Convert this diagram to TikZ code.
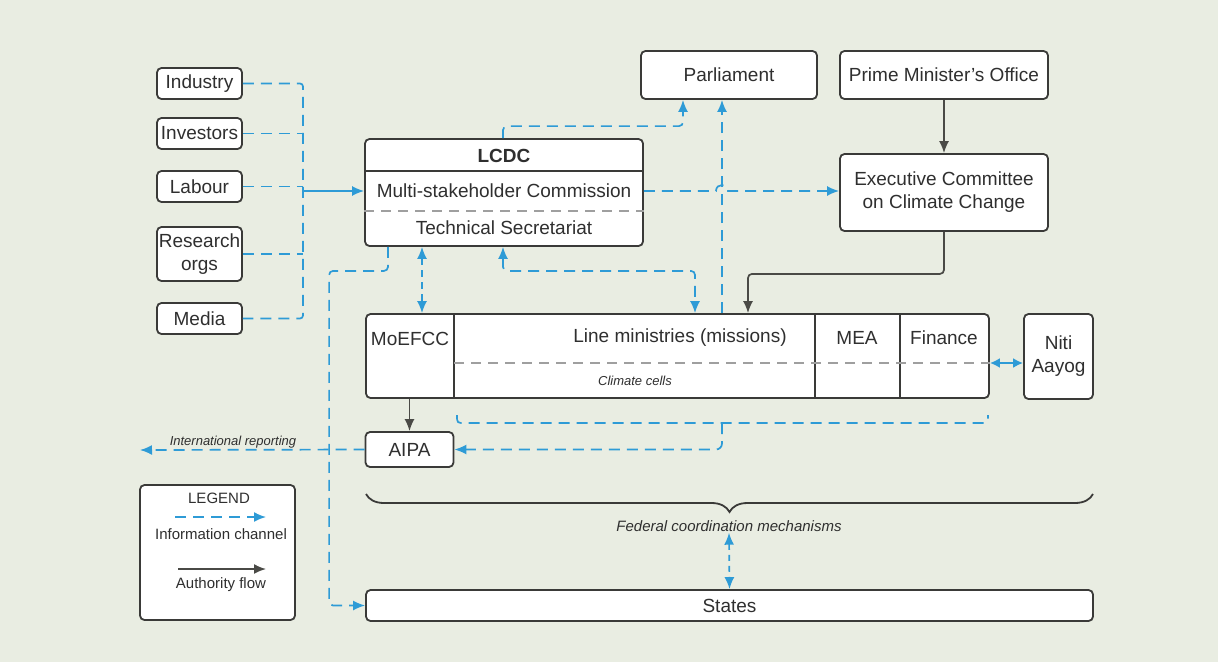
\documentclass[tikz,border=0pt]{standalone}
\usepackage{fontspec}
\setmainfont{Liberation Sans}
\usetikzlibrary{arrows.meta,decorations.pathreplacing,calc}
\definecolor{bg}{HTML}{E9EDE2}
\definecolor{info}{HTML}{2E9BD6}
\definecolor{auth}{HTML}{4A4A46}
\definecolor{edge}{HTML}{3A3A38}
\definecolor{txt}{HTML}{2F2F2F}
\begin{document}
\begin{tikzpicture}[x=1pt,y=-1pt,
  box/.style={draw=edge, line width=1.8pt, rounded corners=4.5pt, fill=white, inner sep=0pt, align=center, font=\fontsize{19}{23}\selectfont, text=txt},
  lbl/.style={inner sep=1pt, text=txt, font=\fontsize{19}{23}\selectfont, align=center},
  small/.style={inner sep=1pt, text=txt, font=\fontsize{13}{15}\selectfont\itshape},
  legtxt/.style={inner sep=1pt, text=txt, font=\fontsize{15}{17}\selectfont},
  infoln/.style={draw=info, line width=1.7pt, dash pattern=on 11pt off 7pt},
  infoarr/.style={infoln, -{Latex[length=12pt,width=10pt]}},
  infobi/.style={infoln, {Latex[length=12pt,width=10pt]}-{Latex[length=12pt,width=10pt]}},
  authar/.style={draw=auth, line width=1.7pt, -{Latex[length=12pt,width=10pt]}},
  sep/.style={draw=edge, line width=1.4pt},
  gdash/.style={draw=gray!75, line width=1.4pt, dash pattern=on 10pt off 7pt},
]
\fill[bg] (0,0) rectangle (1218,662);
\useasboundingbox (0,0) rectangle (1218,662);

% stakeholders
\node[box, minimum width=85, minimum height=31] (ind) at (199.5,83.5) {Industry};
\node[box, minimum width=85, minimum height=31] (inv) at (199.5,133.5) {Investors};
\node[box, minimum width=85, minimum height=31] (lab) at (199.5,186.5) {Labour};
\node[box, minimum width=85, minimum height=54] (res) at (199.5,254) {Research\\orgs};
\node[box, minimum width=85, minimum height=31] (med) at (199.5,318.5) {Media};

% LCDC
\node[box, minimum width=278, minimum height=107] (lcdc) at (504,192.5) {};
\node[lbl, font=\fontsize{19}{23}\selectfont\bfseries] (lcdct) at (504,156) {LCDC};
\node[lbl] (msc) at (504,191) {Multi-stakeholder Commission};
\node[lbl] (ts) at (504,228) {Technical Secretariat};
\draw[sep] (lcdc.west |- 0,171) -- (lcdc.east |- 0,171);
\draw[gdash] (lcdc.west |- 0,211) -- (lcdc.east |- 0,211);

% top right
\node[box, minimum width=176, minimum height=48] (parl) at (729,75) {Parliament};
\node[box, minimum width=208, minimum height=48] (pmo) at (944,75) {Prime Minister's Office};
\node[box, minimum width=208, minimum height=77] (eccc) at (944,192.5) {Executive Committee\\on Climate Change};

% ministries
\node[box, minimum width=623, minimum height=84] (min) at (677.5,356) {};
\draw[sep] (454,0 |- min.north) -- (454,0 |- min.south);
\draw[sep] (815,0 |- min.north) -- (815,0 |- min.south);
\draw[sep] (900,0 |- min.north) -- (900,0 |- min.south);
\draw[gdash] (454,363) -- (min.east |- 0,363);
\node[lbl] (moe) at (410,339) {MoEFCC};
\node[lbl] (lm) at (680,338) {Line ministries (missions)};
\node[lbl] (mea) at (857,338) {MEA};
\node[lbl] (fin) at (944,338) {Finance};
\node[small] (cc) at (635,381) {Climate cells};
\node[box, minimum width=69, minimum height=85] (niti) at (1058.5,356.5) {Niti\\Aayog};

% AIPA
\node[box, minimum width=88, minimum height=35] (aipa) at (409.5,449.5) {AIPA};
\coordinate (intl) at (140,450);
\node[small] (intlt) at (233,442) {International reporting};

% states
\node[box, minimum width=727, minimum height=31] (states) at (729.5,605.5) {States};

% legend
\node[box, minimum width=155, minimum height=135] (leg) at (217.5,552.5) {};
\node[legtxt] (legt) at (219,498) {LEGEND};
\coordinate (l1a) at (175,517);
\coordinate (l1b) at (266,517);
\draw[infoarr] (l1a) -- (l1b);
\node[legtxt] (legi) at (221,534) {Information channel};
\coordinate (l2a) at (178,569);
\coordinate (l2b) at (266,569);
\draw[authar] (l2a) -- (l2b);
\node[legtxt] (lega) at (221,585) {Authority flow};

% stakeholder bus
\coordinate (bus) at (303,0);
\draw[infoln, rounded corners=3pt] (ind.east) -| (bus |- med.east) -- (med.east);
\draw[infoln] (inv.east) -- (inv.east -| bus);
\draw[infoln] (lab.east) -- (lab.east -| bus);
\draw[infoln] (res.east) -- (res.east -| bus);
\draw[draw=info, line width=1.7pt, -{Latex[length=12pt,width=10pt]}] (bus |- msc) -- (lcdc.west |- msc);

% LCDC -> Parliament
\draw[infoarr, rounded corners=4pt] ($(lcdc.north)+(-1,0)$) -- ++(0,-12) -| ($(parl.south)+(-46,0)$);
% Ministries -> Parliament
\draw[infoarr] ($(min.north)+(44.5,0)$) -- ($(parl.south)+(-7,0)$);
% LCDC -> ECCC with hop
\draw[infoarr] (lcdc.east |- msc) -- (716,191) .. controls (716,183) and (728,183) .. (728,191) -- (eccc.west |- msc);
% PMO -> ECCC
\draw[authar] (pmo) -- (eccc);
% ECCC -> ministries
\draw[authar, rounded corners=4pt] (eccc.south) -- ++(0,42) -| ($(min.north)+(70.5,0)$);
% LCDC -> States
\draw[infoarr, rounded corners=4pt] ($(lcdc.south)+(-116,0)$) -- ++(0,24) -| ($(states.west)+(-36,0)$) -- (states.west);
% LCDC <-> MoEFCC
\draw[infobi, dash pattern=on 7pt off 5pt] ($(lcdc.south)+(-82,0)$) -- ($(min.north)+(-255.5,0)$);
% LCDC <-> line ministries
\draw[infobi, rounded corners=4pt] ($(lcdc.south)+(-1,0)$) -- ++(0,24) -| ($(min.north)+(17.5,0)$);
% MoEFCC -> AIPA
\draw[authar] (min.south -| aipa.north) -- (aipa.north);
% climate cells bracket -> AIPA
\coordinate (brace) at (722,423);
\draw[infoln] (457,415) .. controls (457,423) .. (465,423) -- (980,423) .. controls (988,423) .. (988,415);
\draw[infoarr, rounded corners=6pt] (brace) |- (aipa.east);
% AIPA -> international
\draw[infoarr] (aipa.west) -- (intl);
% Finance <-> Niti
\draw[draw=info, line width=2.2pt, {Latex[length=10pt,width=10pt]}-{Latex[length=10pt,width=10pt]}] (min.east |- 0,363) -- (niti.west |- 0,363);

% federal brace
\draw[edge, line width=1.8pt, decorate, decoration={brace, amplitude=18pt, mirror}] (366,494) -- (1093,494);
\node[small, font=\fontsize{15}{17}\selectfont\itshape] (fed) at (729,526) {Federal coordination mechanisms};
\draw[infobi, dash pattern=on 6pt off 5pt] (fed.south) -- (states.north);
\end{tikzpicture}
\end{document}
